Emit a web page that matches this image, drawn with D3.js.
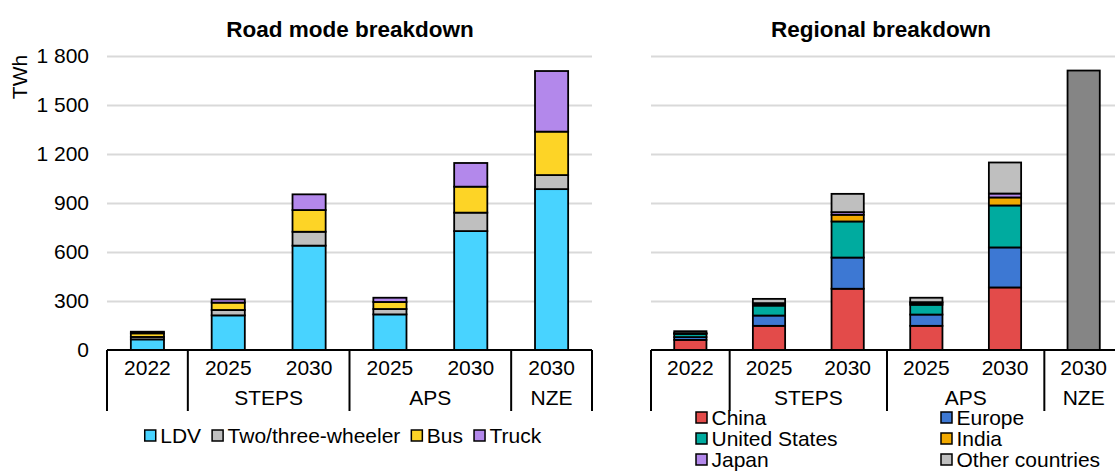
<!DOCTYPE html>
<html>
<head>
<meta charset="utf-8">
<script src="https://cdn.jsdelivr.net/npm/d3@7"></script>
<style>
  html, body { margin: 0; padding: 0; background: #fff; }
  svg { display: block; font-family: "Liberation Sans", Arial, sans-serif; }
</style>
</head>
<body>
<svg id="chart" width="1115" height="471"></svg>
<script>
// ---- data ----
const categories = ["2022", "2025", "2030", "2025", "2030", "2030"];
const groupLabels = ["", "STEPS", "APS", "NZE"];
const groupSizes = [1, 2, 2, 1];
const yTicks = [0, 300, 600, 900, 1200, 1500, 1800];

const roadSeries = ["LDV", "Two/three-wheeler", "Bus", "Truck"];
const ldv = [65, 212, 639, 218, 728, 985];
const twoThree = [15, 33, 85, 33, 113, 86];
const bus = [22, 45, 133, 43, 159, 266];
const truck = [10, 20, 96, 26, 145, 371];

const regionSeries = ["China", "Europe", "United States", "India", "Japan", "Other countries", "World"];
const china = [62, 148, 375, 148, 383, 0];
const europe = [17, 63, 191, 69, 245, 0];
const unitedStates = [20, 61, 221, 60, 257, 0];
const india = [2, 10, 41, 10, 49, 0];
const japan = [2, 5, 16, 6, 24, 0];
const otherCountries = [12, 26, 112, 27, 190, 0];
const world = [0, 0, 0, 0, 0, 1711];

const roadColors = ["#48D3FF", "#BFBFBF", "#FDD426", "#B388EB"];
const regionColors = ["#E34B4A", "#3D78D3", "#00AB9F", "#F2A900", "#B388EB", "#BFBFBF", "#858585"];

// ---- drawing ----
const svg = d3.select("#chart");
const FS = 21;

function buildRows(seriesNames, arrays) {
  return categories.map((c, i) => {
    const r = { idx: i };
    seriesNames.forEach((s, k) => r[s] = arrays[k][i]);
    return r;
  });
}

function drawPanel(opts) {
  const { x0, x1, title, titleX, seriesNames, arrays, colors, showY } = opts;
  const yTop = 56, yBottom = 350, boxBottom = 411;
  const y = d3.scaleLinear().domain([0, 1800]).range([yBottom, yTop]);
  const x = d3.scaleBand().domain(d3.range(categories.length)).range([x0, x1]).paddingInner(0.59).paddingOuter(0.295);
  const step = (x1 - x0) / categories.length;
  const g = svg.append("g");

  // gridlines
  const yAxis = d3.axisLeft(y).tickValues(yTicks).tickSize(-(x1 - x0)).tickPadding(18)
    .tickFormat(d => d3.format(",")(d).replace(/,/g, " "));
  const ya = g.append("g").attr("transform", `translate(${x0},0)`).call(yAxis);
  ya.select(".domain").remove();
  ya.selectAll(".tick line").attr("stroke", "#D9D9D9").attr("stroke-width", 2);
  ya.selectAll(".tick text").attr("font-size", FS).attr("fill", "#000")
    .attr("font-family", "Liberation Sans, Arial, sans-serif")
    .style("display", showY ? null : "none");
  ya.selectAll(".tick").filter(d => d === 0).select("line").remove();

  // stacked bars
  const rows = buildRows(seriesNames, arrays);
  const stack = d3.stack().keys(seriesNames)(rows);
  g.append("g").selectAll("g").data(stack).join("g")
    .attr("fill", (d, i) => colors[i])
    .selectAll("rect").data(d => d.filter(p => p[1] - p[0] > 0)).join("rect")
    .attr("x", d => x(d.data.idx))
    .attr("width", x.bandwidth())
    .attr("y", d => y(d[1]))
    .attr("height", d => y(d[0]) - y(d[1]))
    .attr("stroke", "#000").attr("stroke-width", 1.8);

  // category axis box
  const ax = g.append("g").attr("stroke", "#000").attr("stroke-width", 2);
  ax.append("line").attr("x1", x0).attr("x2", x1).attr("y1", yBottom).attr("y2", yBottom);
  let acc = 0;
  const bounds = [0];
  groupSizes.forEach(s => { acc += s; bounds.push(acc); });
  bounds.forEach(b => {
    ax.append("line").attr("x1", x0 + b * step).attr("x2", x0 + b * step)
      .attr("y1", yBottom).attr("y2", boxBottom);
  });
  g.append("g").selectAll("text").data(categories).join("text")
    .attr("x", (d, i) => x(i) + x.bandwidth() / 2)
    .attr("y", 375).attr("text-anchor", "middle").attr("font-size", FS).attr("fill", "#000")
    .text(d => d);
  g.append("g").selectAll("text").data(groupLabels).join("text")
    .attr("x", (d, i) => x0 + (bounds[i] + bounds[i + 1]) / 2 * step)
    .attr("y", 405).attr("text-anchor", "middle").attr("font-size", FS).attr("fill", "#000")
    .text(d => d);

  // title
  g.append("text").attr("x", titleX).attr("y", 37).attr("text-anchor", "middle")
    .attr("font-size", 22.5).attr("font-weight", "bold").attr("fill", "#000").text(title);
  return { x, y };
}

drawPanel({ x0: 107, x1: 592, title: "Road mode breakdown", titleX: 350,
  seriesNames: roadSeries, arrays: [ldv, twoThree, bus, truck], colors: roadColors, showY: true });
drawPanel({ x0: 651, x1: 1123, title: "Regional breakdown", titleX: 881,
  seriesNames: regionSeries, arrays: [china, europe, unitedStates, india, japan, otherCountries, world],
  colors: regionColors, showY: false });

// y axis title
svg.append("text").attr("transform", "translate(27,77) rotate(-90)")
  .attr("text-anchor", "middle").attr("font-size", FS).attr("fill", "#000").text("TWh");

// left legend
const leg1 = svg.append("g");
let lx = 0;
roadSeries.forEach((s, i) => {
  const it = leg1.append("g").attr("transform", `translate(${lx},0)`);
  it.append("rect").attr("x", 0).attr("y", -6).attr("width", 11).attr("height", 11)
    .attr("fill", roadColors[i]).attr("stroke", "#000").attr("stroke-width", 1.5);
  const t = it.append("text").attr("x", 15.5).attr("y", 7).attr("font-size", FS).attr("fill", "#000").text(s);
  lx += 15.5 + t.node().getComputedTextLength() + 11;
});
const legW = lx - 11;
leg1.attr("transform", `translate(${343 - legW / 2},436)`);

// right legend (two columns)
const leg2 = svg.append("g");
regionSeries.slice(0, 6).forEach((s, i) => {
  const col = i % 2, row = Math.floor(i / 2);
  const it = leg2.append("g").attr("transform", `translate(${col ? 941 : 696},${418 + row * 21})`);
  it.append("rect").attr("x", 0).attr("y", -6).attr("width", 11).attr("height", 11)
    .attr("fill", regionColors[i]).attr("stroke", "#000").attr("stroke-width", 1.5);
  it.append("text").attr("x", 15.5).attr("y", 7).attr("font-size", FS).attr("fill", "#000").text(s);
});
</script>
</body>
</html>
